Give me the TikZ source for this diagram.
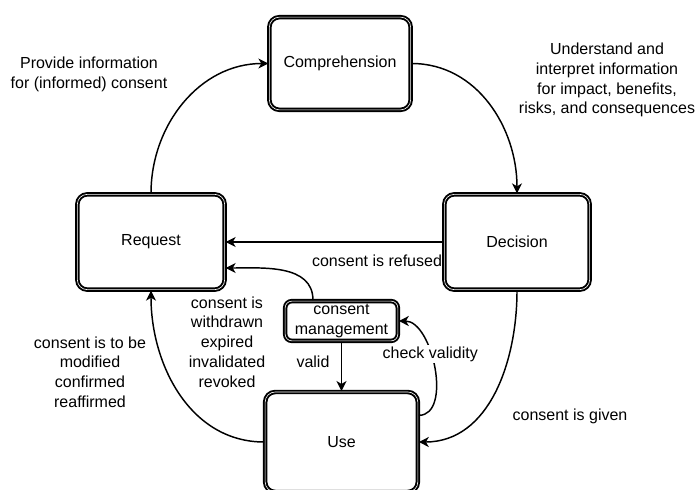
\documentclass[tikz,border=0pt]{standalone}
\usepackage{fontspec}
\setmainfont{Liberation Sans}
\usetikzlibrary{positioning, calc, arrows.meta}

\begin{document}
\begin{tikzpicture}[x=0.75pt, y=-0.75pt, >={Stealth[length=7.5pt, width=7.5pt, inset=2.2pt]},
    statebox/.style={draw, fill=white, rounded corners=7.5pt, line width=1.45pt,
        double=white, double distance=0.45pt, align=center, inner sep=0pt,
        font=\fontsize{12}{14.8}\selectfont},
    flow/.style={->, line width=1.1pt},
    lbl/.style={align=center, inner sep=1pt, font=\fontsize{12}{14.8}\selectfont}]

    % ================= Frame =================
    \useasboundingbox (0,0) rectangle (699,489);
    \clip (0,0) rectangle (699,489);

    % ================= Free labels =================
    \node[lbl] (lprovide) at (89,74) {Provide information\\for (informed) consent};
    \node[lbl] (lunderstand) at (607,80) {Understand and\\interpret information\\for impact, benefits,\\risks, and consequences};
    \node[lbl] (lrefused) at (377,261) {consent is refused};
    \node[lbl] (lwithdrawn) at (227,342) {consent is\\withdrawn\\expired\\invalidated\\revoked};
    \node[lbl] (lmodified) at (90,372) {consent is to be\\modified\\confirmed\\reaffirmed};
    \node[lbl] (lvalid) at (313,362) {valid};
    \node[lbl] (lgiven) at (570,416) {consent is given};

    % ================= States =================
    \node[statebox, minimum width=106pt, minimum height=69.5pt] (comp) at (340,63.5) {Comprehension};
    \node[statebox, minimum width=110.5pt, minimum height=71.5pt] (req) at (151,242) {Request};
    \node[statebox, minimum width=109pt, minimum height=71.5pt] (dec) at (517,242) {Decision};
    \node[statebox, minimum width=114.5pt, minimum height=75pt] (use) at (341.5,442) {Use};
    \node[statebox, rounded corners=5pt, minimum width=84.5pt, minimum height=29.8pt] (cm) at (341.5,321) {consent\\management};

    % ================= Transitions =================
    \draw[flow] (req.north) to[out=90, in=180] (comp.west);
    \draw[flow] (comp.east) to[out=0, in=90] (dec.north);
    \draw[flow] (dec.west) -- (req.east);
    \draw[flow] ([xshift=-21.4pt]cm.north) to[out=90, in=0] ([yshift=-19.5pt]req.east);
    \draw[flow] (cm.south) -- (use.north);
    \draw[flow] ([yshift=20pt]use.east) to[out=0, in=0, looseness=0.9]
        node[lbl, fill=white, pos=0.6] (lcheck) {check validity} (cm.east);
    \draw[flow] (dec.south) to[out=-90, in=0] (use.east);
    \draw[flow] (use.west) to[out=180, in=-90] (req.south);

\end{tikzpicture}
\end{document}
